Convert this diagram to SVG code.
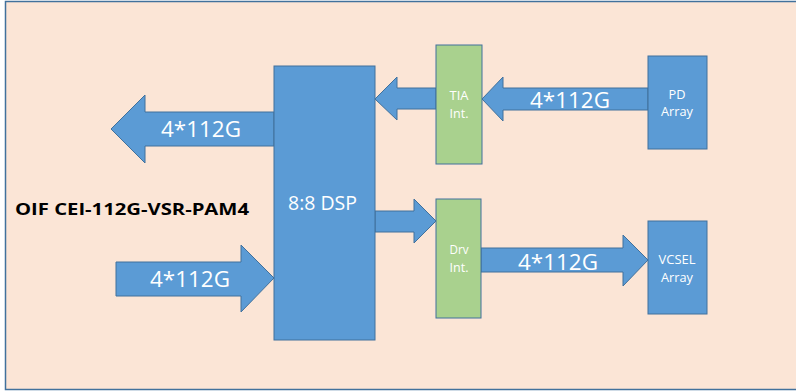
<svg xmlns="http://www.w3.org/2000/svg" width="796" height="391" viewBox="0 0 796 391">
<style>
.blk{fill:#5B9BD5;stroke:#41719C;stroke-width:1}
.grn{fill:#A9D18E;stroke:#41719C;stroke-width:1}
.arr{fill:#5B9BD5;stroke:#41719C;stroke-width:1}
.big{font-family:"Open Sans","Liberation Sans",sans-serif;font-size:22.5px;fill:#FFFFFF;text-anchor:middle}
.sm{font-family:"Open Sans","Liberation Sans",sans-serif;font-size:13.5px;fill:#FFFFFF;text-anchor:middle}
.dsp{font-family:"Open Sans","Liberation Sans",sans-serif;font-size:19.5px;fill:#FFFFFF;text-anchor:middle}
.ttl{font-family:"Open Sans","Liberation Sans",sans-serif;font-size:16px;font-weight:bold;fill:#000000}
</style>
<rect x="0" y="0" width="796" height="391" fill="#FFFFFF"/>
<rect x="5.5" y="1.5" width="800" height="388" fill="#FBE5D6" stroke="#41719C" stroke-width="1.5"/>
<g id="connectors">
<polygon class="arr" points="274,112 145,112 145,95 111,129 145,163 145,146 274,146"/>
<polygon class="arr" points="116,262 241,262 241,245 274,278 241,312 241,296 116,296"/>
<polygon class="arr" points="436,88 397,88 397,77 375,99 397,120 397,109 436,109"/>
<polygon class="arr" points="648,88 503,88 503,77 482,99 503,121 503,110 648,110"/>
<polygon class="arr" points="375,211 414,211 414,199 436,221 414,243 414,232 375,232"/>
<polygon class="arr" points="481,248 623,248 623,235 648,260 623,286 623,272 481,272"/>
<text class="big" x="201" y="137" textLength="80" lengthAdjust="spacingAndGlyphs">4*112G</text>
<text class="big" x="190" y="287" textLength="80" lengthAdjust="spacingAndGlyphs">4*112G</text>
<text class="big" x="570" y="108" textLength="80" lengthAdjust="spacingAndGlyphs">4*112G</text>
<text class="big" x="558" y="270" textLength="80" lengthAdjust="spacingAndGlyphs">4*112G</text>
</g>
<g id="dsp">
<rect class="blk" x="274" y="66" width="101" height="274"/>
<text class="dsp" x="322.5" y="210" textLength="69" lengthAdjust="spacingAndGlyphs">8:8 DSP</text>
</g>
<g id="tia">
<rect class="grn" x="436" y="45" width="46" height="119"/>
<text class="sm" x="459" y="100" textLength="19" lengthAdjust="spacingAndGlyphs">TIA</text>
<text class="sm" x="459" y="118" textLength="19" lengthAdjust="spacingAndGlyphs">Int.</text>
</g>
<g id="pd">
<rect class="blk" x="648" y="56" width="59" height="93"/>
<text class="sm" x="677" y="99" textLength="17" lengthAdjust="spacingAndGlyphs">PD</text>
<text class="sm" x="677" y="116" textLength="32" lengthAdjust="spacingAndGlyphs">Array</text>
</g>
<g id="drv">
<rect class="grn" x="436" y="199" width="45" height="119"/>
<text class="sm" x="459" y="254" textLength="19" lengthAdjust="spacingAndGlyphs">Drv</text>
<text class="sm" x="459" y="272" textLength="19" lengthAdjust="spacingAndGlyphs">Int.</text>
</g>
<g id="vcsel">
<rect class="blk" x="648" y="221" width="59" height="93"/>
<text class="sm" x="677" y="264" textLength="37" lengthAdjust="spacingAndGlyphs">VCSEL</text>
<text class="sm" x="677" y="282" textLength="32" lengthAdjust="spacingAndGlyphs">Array</text>
</g>
<g id="title">
<text class="ttl" x="15" y="215" textLength="234" lengthAdjust="spacingAndGlyphs">OIF CEI-112G-VSR-PAM4</text>
</g>
</svg>
